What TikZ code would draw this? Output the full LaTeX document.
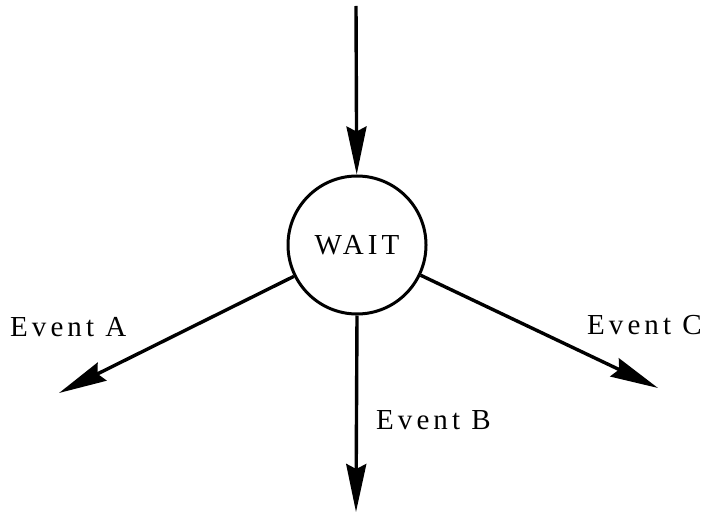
\documentclass[tikz,border=0pt]{standalone}
\usepackage{fontspec}
\setmainfont[LetterSpace=14]{Liberation Serif}
\usetikzlibrary{arrows.meta}

\tikzset{
    flow/.style={line width=3.4pt, -{Stealth[length=48pt,width=20pt,inset=5pt]}},
    state/.style={circle, draw, line width=3pt, minimum size=138pt, inner sep=0pt, font=\fontsize{29}{32}\selectfont},
    evlabel/.style={anchor=base west, inner sep=0pt, font=\fontsize{29}{32}\selectfont}
}

\begin{document}
\begin{tikzpicture}[x=1pt, y=1pt]
        \useasboundingbox (0,0) rectangle (711,-513);

        \node[state] (wait) at (357,-245) {WAIT};

        \coordinate (in) at (356,-6);
        \coordinate (endA) at (59,-393);
        \coordinate (endB) at (356,-512);
        \coordinate (endC) at (658,-388);

        \draw[flow] (in) -- (wait);
        \draw[flow] (wait) -- (endA);
        \draw[flow] (wait.south) -- (endB);
        \draw[flow] (wait) -- (endC);

        \node[evlabel] (labA) at (10,-336) {Event A};
        \node[evlabel] (labB) at (376,-429) {Event B};
        \node[evlabel] (labC) at (587,-334) {Event C};

    \end{tikzpicture}
\end{document}
